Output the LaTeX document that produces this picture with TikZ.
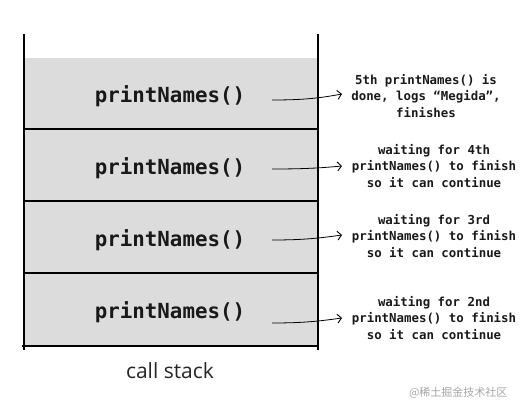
\documentclass[tikz,border=0pt]{standalone}
\usepackage{fontspec}
\setmonofont{DejaVu Sans Mono}
\newfontfamily\capfont{Open Sans}
\newfontfamily\cjkfont{Noto Sans CJK SC}
\usetikzlibrary{arrows.meta}
\definecolor{stackgray}{RGB}{220,220,220}
\definecolor{markgray}{RGB}{165,165,165}
\tikzset{
  frame/.style={fill=stackgray, draw=none, minimum width=294pt, inner sep=0pt, outer sep=0pt},
  wall/.style={line width=1.6pt},
  fname/.style={font=\ttfamily\bfseries\fontsize{20.8}{24}\selectfont, text=black!90},
  note/.style={font=\ttfamily\bfseries\fontsize{12.4}{16.3}\selectfont, align=center, text=black!90, inner sep=0pt},
  link/.style={line width=0.8pt, -{Straight Barb[length=4pt,width=9pt,line width=0.9pt]}}
}
\begin{document}
\begin{tikzpicture}[x=1pt,y=-1pt]
\useasboundingbox (0,0) rectangle (530,412);
% stack frames
\node[frame, minimum height=71pt] (f1) at (171,93.5) {};
\node[frame, minimum height=72pt] (f2) at (171,165) {};
\node[frame, minimum height=72pt] (f3) at (171,237) {};
\node[frame, minimum height=73pt] (f4) at (171,309.5) {};
% walls and dividers
\coordinate (lt) at (24,34);
\coordinate (lb) at (24,350);
\coordinate (rt) at (318,34);
\coordinate (rb) at (318,350);
\draw[wall] (lt) -- (lb);
\draw[wall] (rt) -- (rb);
\draw[wall] (f1.south west) -- (f1.south east);
\draw[wall] (f2.south west) -- (f2.south east);
\draw[wall] (f3.south west) -- (f3.south east);
\draw[wall] ([xshift=-2pt]f4.south west) -- ([xshift=1pt]f4.south east);
% function names
\node[fname] (p1) at (170,96) {printNames()};
\node[fname] (p2) at (170,168) {printNames()};
\node[fname] (p3) at (170,240) {printNames()};
\node[fname] (p4) at (170,312) {printNames()};
% notes
\node[note] (n1) at (426,96) {5th printNames() is\\done, logs “Megida”,\\finishes};
\node[note] (n2) at (434,166) {waiting for 4th\\printNames() to finish\\so it can continue};
\node[note] (n3) at (434,236) {waiting for 3rd\\printNames() to finish\\so it can continue};
\node[note] (n4) at (434,318) {waiting for 2nd\\printNames() to finish\\so it can continue};
% arrows
\coordinate (a1) at (272,100); \coordinate (b1) at (342,94);
\coordinate (a2) at (272,169); \coordinate (b2) at (342,166);
\coordinate (a3) at (272,240); \coordinate (b3) at (342,235);
\coordinate (a4) at (272,323); \coordinate (b4) at (342,318);
\draw[link] (a1) .. controls (305,100) and (320,98) .. (b1);
\draw[link] (a2) .. controls (305,169) and (320,168) .. (b2);
\draw[link] (a3) .. controls (305,240) and (320,238) .. (b3);
\draw[link] (a4) .. controls (305,323) and (320,321) .. (b4);
% caption
\node[font=\capfont\fontsize{21}{24}\selectfont, text=black!85] (cap) at (170,371) {call stack};
\node[font=\cjkfont\fontsize{11}{12}\selectfont, text=markgray, anchor=east] (wm) at (511,393) {@稀土掘金技术社区};
\end{tikzpicture}
\end{document}
